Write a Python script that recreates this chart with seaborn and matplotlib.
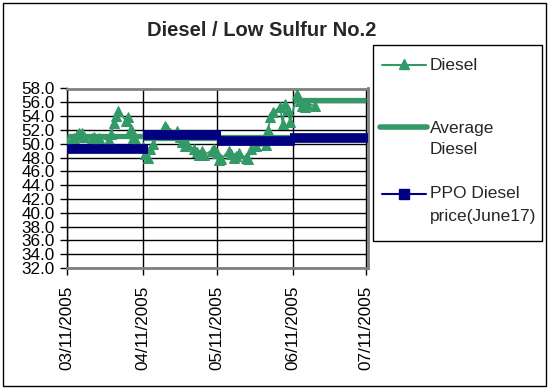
"""Diesel / Low Sulfur No.2 价格走势图"""
import numpy as np
import pandas as pd
import matplotlib
matplotlib.use("Agg")
import matplotlib.pyplot as plt
import matplotlib.dates as mdates
from matplotlib.lines import Line2D
from matplotlib.patches import Rectangle
import seaborn as sns

# 每日柴油价格
diesel_dates = [
    "2005-03-11", "2005-03-14", "2005-03-15", "2005-03-16", "2005-03-17", "2005-03-18",
    "2005-03-21", "2005-03-22", "2005-03-23", "2005-03-24", "2005-03-28", "2005-03-29",
    "2005-03-30", "2005-03-31", "2005-04-01", "2005-04-04", "2005-04-05", "2005-04-06",
    "2005-04-07", "2005-04-08", "2005-04-11", "2005-04-12", "2005-04-13", "2005-04-14",
    "2005-04-15", "2005-04-18", "2005-04-19", "2005-04-20", "2005-04-21", "2005-04-22",
    "2005-04-25", "2005-04-26", "2005-04-27", "2005-04-28", "2005-04-29", "2005-05-02",
    "2005-05-03", "2005-05-04", "2005-05-05", "2005-05-06", "2005-05-09", "2005-05-10",
    "2005-05-11", "2005-05-12", "2005-05-13", "2005-05-16", "2005-05-17", "2005-05-18",
    "2005-05-19", "2005-05-20", "2005-05-23", "2005-05-24", "2005-05-25", "2005-05-26",
    "2005-05-27", "2005-05-31", "2005-06-01", "2005-06-02", "2005-06-03", "2005-06-06",
    "2005-06-07", "2005-06-08", "2005-06-09", "2005-06-10", "2005-06-13", "2005-06-14",
    "2005-06-15", "2005-06-16", "2005-06-17", "2005-06-20",
]
diesel_price = [
    50.3, 50.8, 51.2, 51.6, 51.5, 51.0,
    50.9, 51.0, 50.6, 50.9, 50.5, 51.4,
    53.0, 54.0, 54.8, 53.3, 53.8, 52.2,
    50.8, 50.4, 49.5, 48.5, 48.0, 49.3,
    50.0, 51.3, 52.0, 52.6, 52.2, 51.6,
    51.9, 51.0, 50.2, 49.6, 49.9, 49.2,
    48.8, 48.4, 49.0, 48.4, 49.0, 49.3,
    48.7, 47.6, 47.8, 49.0, 48.5, 48.0,
    48.2, 48.6, 48.0, 47.8, 49.3, 50.5,
    49.6, 49.8, 52.0, 53.9, 54.6, 55.3,
    52.8, 55.8, 54.9, 53.2, 57.2, 56.2,
    55.5, 55.3, 55.8, 55.5,
]

# 月平均柴油价格 (阶梯)
avg_starts = ["2005-03-11", "2005-04-11", "2005-05-11", "2005-06-11"]
avg_price = [51.1, 50.9, 51.0, 56.3]

# PPO 柴油价格 (阶梯)
ppo_starts = ["2005-03-11", "2005-04-12", "2005-05-12", "2005-06-11"]
ppo_price = [49.3, 51.3, 50.4, 50.9]

period_end = "2005-07-11"
month_ticks = ["2005-03-11", "2005-04-11", "2005-05-11", "2005-06-11", "2005-07-11"]
y_ticks = [32, 34, 36, 38, 40, 42, 44, 46, 48, 50, 52, 54, 56, 58]

GREEN = "#339966"
NAVY = "#000080"
W, H = 550, 390

sns.set_style("white")
plt.rcParams['font.family'] = ['Liberation Sans', 'DejaVu Sans']


def fx(px):
    return px / W


def fy(py):
    return 1 - py / H


fig = plt.figure(figsize=(5.5, 3.9), dpi=100)
ax = fig.add_axes([fx(67), fy(268), fx(368) - fx(67), fy(88.5) - fy(268)])

df = pd.DataFrame({"date": pd.to_datetime(diesel_dates), "price": diesel_price})
sns.lineplot(data=df, x="date", y="price", ax=ax, color=GREEN, lw=1.3,
             marker="^", markersize=7.5, markeredgecolor=GREEN, zorder=3)

avg_s = mdates.date2num(pd.to_datetime(avg_starts))
avg_e = mdates.date2num(pd.to_datetime(avg_starts[1:] + [period_end]))
ax.hlines(avg_price, avg_s, avg_e, colors=GREEN, lw=3.8, zorder=4)

ppo_s = mdates.date2num(pd.to_datetime(ppo_starts))
ppo_e = mdates.date2num(pd.to_datetime(ppo_starts[1:] + [period_end]))
ax.hlines(ppo_price, ppo_s - 1.0, ppo_e + 1.0, colors=NAVY, lw=7, zorder=5)

# 坐标轴
t0 = mdates.date2num(pd.Timestamp(month_ticks[0]))
t1 = mdates.date2num(pd.Timestamp(month_ticks[-1]))
ax.set_xlim(t0, t1 + 0.8)
ax.set_ylim(32, 58)
ax.set_xticks(mdates.date2num(pd.to_datetime(month_ticks)))
ax.xaxis.set_major_formatter(mdates.DateFormatter('%m/%d/%Y'))
ax.set_yticks(y_ticks)
ax.set_yticklabels([f"{v:.1f}" for v in y_ticks])
ax.tick_params(axis='x', labelrotation=90, direction='out', length=5, width=1,
               pad=8, labelsize=12.3, colors='black', bottom=True)
ax.tick_params(axis='y', direction='out', length=5, width=1, pad=4,
               labelsize=12.3, colors='black', left=True)
ax.set_xlabel("")
ax.set_ylabel("")
ax.grid(True, color='black', lw=1)
ax.set_axisbelow(True)
for sp in ax.spines.values():
    sp.set_color('#808080')
    sp.set_linewidth(2)
ax.spines['left'].set_color('black')
ax.spines['left'].set_linewidth(1)

# 标题
fig.text(fx(262), fy(30), "Diesel / Low Sulfur No.2", ha='center', va='center',
         fontsize=14.5, fontweight='bold')

# 图例 (手动绘制)
fig.add_artist(Rectangle((fx(373), fy(241)), fx(542) - fx(373), fy(45) - fy(241),
                         transform=fig.transFigure, fill=False, ec='black', lw=1))
fig.add_artist(Line2D([fx(382), fx(426)], [fy(65), fy(65)], color=GREEN, lw=1.5,
                      transform=fig.transFigure))
fig.add_artist(Line2D([fx(404)], [fy(64)], marker='^', ms=7.5, color=GREEN,
                      transform=fig.transFigure))
fig.add_artist(Line2D([fx(380), fx(427)], [fy(127), fy(127)], color=GREEN, lw=4,
                      transform=fig.transFigure))
fig.add_artist(Line2D([fx(382), fx(426)], [fy(194), fy(194)], color=NAVY, lw=1.5,
                      transform=fig.transFigure))
fig.add_artist(Line2D([fx(404)], [fy(194)], marker='s', ms=6.5, color=NAVY,
                      transform=fig.transFigure))
legend_text = [("Diesel", 65), ("Average", 129), ("Diesel", 150),
               ("PPO Diesel", 194), ("price(June17)", 217)]
for txt, py in legend_text:
    fig.text(fx(430), fy(py), txt, ha='left', va='center', fontsize=12.5)

# 外边框
fig.add_artist(Rectangle((fx(3), fy(386)), fx(546) - fx(3), fy(3) - fy(386),
                         transform=fig.transFigure, fill=False, ec='black', lw=1))

fig.savefig("out.png", dpi=100)
